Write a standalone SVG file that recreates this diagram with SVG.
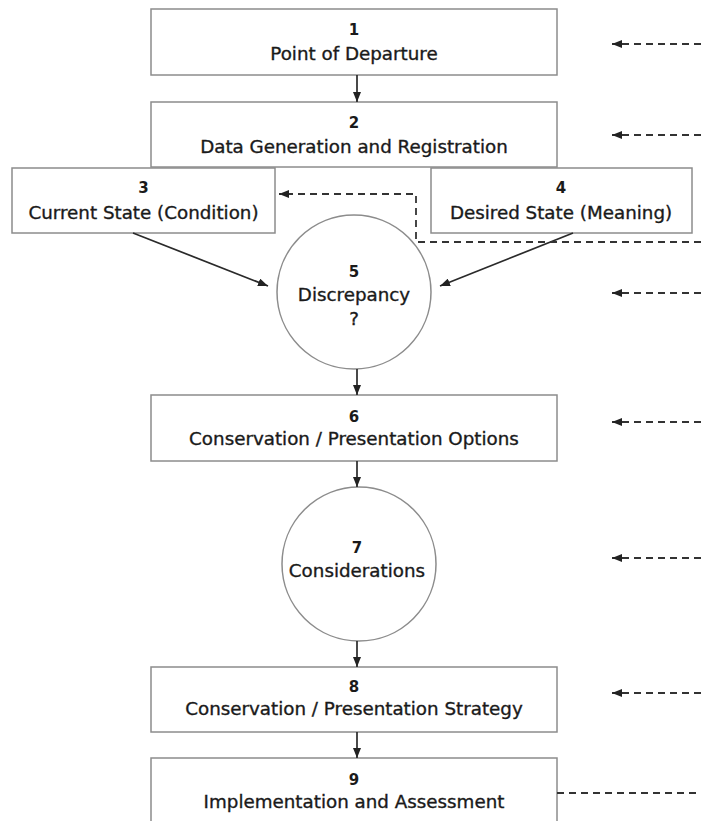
<svg xmlns="http://www.w3.org/2000/svg" width="701" height="821" viewBox="0 0 701 821">
  <style>
    .box { fill: #ffffff; stroke: #8c8c8c; stroke-width: 1.5; }
    .num { font-family: "DejaVu Sans", "Liberation Sans", sans-serif; font-weight: bold; font-size: 15px; fill: #1a1a1a; text-anchor: middle; }
    .lbl { font-family: "DejaVu Sans", "Liberation Sans", sans-serif; font-size: 18.3px; fill: #1a1a1a; stroke: #1a1a1a; stroke-width: 0.35; text-anchor: middle; }
    .solid { stroke: #2a2a2a; stroke-width: 1.7; fill: none; }
    .dash { stroke: #333; stroke-width: 1.8; fill: none; stroke-dasharray: 7 5; }
  </style>
  <defs>
    <marker id="ah" viewBox="0 0 10 8" refX="10" refY="4" markerWidth="10" markerHeight="8" orient="auto" markerUnits="userSpaceOnUse">
      <path d="M0,0 L10,4 L0,8 z" fill="#222"/>
    </marker>
  </defs>
  <rect width="701" height="821" fill="#ffffff"/>

  <g id="node1">
    <rect class="box" x="151" y="9" width="406" height="66"/>
    <text class="num" x="354" y="35">1</text>
    <text class="lbl" x="354" y="60">Point of Departure</text>
  </g>
  <g id="node2">
    <rect class="box" x="151" y="102" width="406" height="65"/>
    <text class="num" x="354" y="128">2</text>
    <text class="lbl" x="354" y="153">Data Generation and Registration</text>
  </g>
  <g id="node3">
    <rect class="box" x="12" y="168" width="263" height="65"/>
    <text class="num" x="143.5" y="193">3</text>
    <text class="lbl" x="143.5" y="219">Current State (Condition)</text>
  </g>
  <g id="node4">
    <rect class="box" x="431" y="168" width="261" height="65"/>
    <text class="num" x="561" y="193">4</text>
    <text class="lbl" x="561" y="219">Desired State (Meaning)</text>
  </g>
  <g id="node5">
    <circle class="box" cx="354" cy="292" r="77"/>
    <text class="num" x="354" y="277">5</text>
    <text class="lbl" x="354" y="301">Discrepancy</text>
    <text class="lbl" x="354" y="325">?</text>
  </g>
  <g id="node6">
    <rect class="box" x="151" y="395" width="406" height="66"/>
    <text class="num" x="354" y="422">6</text>
    <text class="lbl" x="354" y="445">Conservation / Presentation Options</text>
  </g>
  <g id="node7">
    <circle class="box" cx="359" cy="564" r="77"/>
    <text class="num" x="357" y="553">7</text>
    <text class="lbl" x="357" y="577">Considerations</text>
  </g>
  <g id="node8">
    <rect class="box" x="151" y="667" width="406" height="65"/>
    <text class="num" x="354" y="692">8</text>
    <text class="lbl" x="354" y="715">Conservation / Presentation Strategy</text>
  </g>
  <g id="node9">
    <rect class="box" x="151" y="758" width="406" height="70"/>
    <text class="num" x="354" y="785">9</text>
    <text class="lbl" x="354" y="808">Implementation and Assessment</text>
  </g>

  <g id="connectors">
    <line class="solid" x1="357" y1="75" x2="357" y2="102" marker-end="url(#ah)"/>
    <line class="solid" x1="133" y1="233" x2="268" y2="286" marker-end="url(#ah)"/>
    <line class="solid" x1="573" y1="233" x2="440" y2="286" marker-end="url(#ah)"/>
    <line class="solid" x1="357" y1="369" x2="357" y2="395" marker-end="url(#ah)"/>
    <line class="solid" x1="357" y1="461" x2="357" y2="487" marker-end="url(#ah)"/>
    <line class="solid" x1="357" y1="641" x2="357" y2="667" marker-end="url(#ah)"/>
    <line class="solid" x1="357" y1="732" x2="357" y2="758" marker-end="url(#ah)"/>

    <line class="dash" x1="701" y1="44" x2="612" y2="44" marker-end="url(#ah)"/>
    <line class="dash" x1="701" y1="135" x2="612" y2="135" marker-end="url(#ah)"/>
    <polyline class="dash" points="701,242 416,242 416,194 279,194" marker-end="url(#ah)"/>
    <line class="dash" x1="701" y1="293" x2="612" y2="293" marker-end="url(#ah)"/>
    <line class="dash" x1="701" y1="422" x2="612" y2="422" marker-end="url(#ah)"/>
    <line class="dash" x1="701" y1="558" x2="612" y2="558" marker-end="url(#ah)"/>
    <line class="dash" x1="701" y1="693" x2="612" y2="693" marker-end="url(#ah)"/>
    <line class="dash" x1="557" y1="793" x2="701" y2="793"/>
  </g>
</svg>
